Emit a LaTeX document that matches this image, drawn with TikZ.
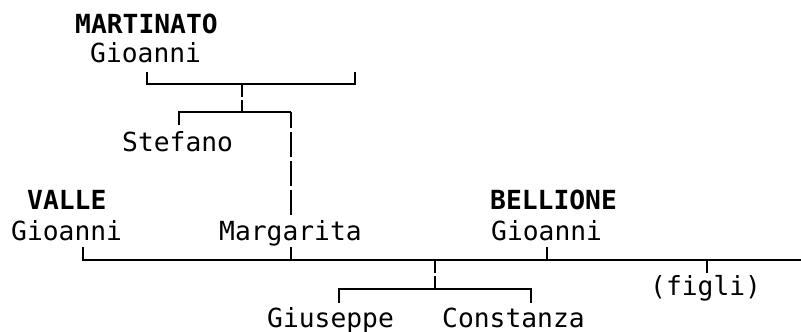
\documentclass[tikz,border=0pt]{standalone}
\usepackage{fontspec}
\setmonofont{DejaVu Sans Mono}
\begin{document}
\begin{tikzpicture}
    [x=1pt, y=-1pt,
     given/.style={inner sep=0pt, anchor=base west, font=\ttfamily\fontsize{26.3}{30}\selectfont},
     family/.style={inner sep=0pt, anchor=base west, font=\ttfamily\bfseries\fontsize{26.3}{30}\selectfont},
     line/.style={line width=1.8pt},
     pipe/.style={line width=1.8pt, dash pattern=on 12.5pt off 3.5pt},
     longpipe/.style={line width=1.8pt, dash pattern=on 25.5pt off 3.5pt}]
    \useasboundingbox (0,0) rectangle (801,332);
    \node[family] (msur) at (75,33) {MARTINATO};
    \node[given] (mname) at (90,62) {Gioanni};
    \node[given] (stefano) at (122,151) {Stefano};
    \node[family] (vsur) at (27,209) {VALLE};
    \node[given] (vname) at (11,240) {Gioanni};
    \node[given] (margarita) at (219,240) {Margarita};
    \node[family] (bsur) at (490,209) {BELLIONE};
    \node[given] (bname) at (491,240) {Gioanni};
    \node[given] (figli) at (650,295) {(figli)};
    \node[given] (giuseppe) at (267,327) {Giuseppe};
    \node[given] (constanza) at (442,327) {Constanza};
    \coordinate (mL) at (147,72);
    \coordinate (mR) at (355,72);
    \coordinate (mJ) at (242,84);
    \coordinate (sJ) at (242,112);
    \coordinate (sL) at (179,125);
    \coordinate (sR) at (291,112);
    \coordinate (mgTop) at (291,215);
    \coordinate (mgBot) at (291,247);
    \coordinate (vL) at (83,247);
    \coordinate (bBot) at (547,247);
    \coordinate (mainR) at (801,260);
    \coordinate (fTop) at (707,273);
    \coordinate (cJ) at (435,260);
    \coordinate (cM) at (435,289);
    \coordinate (cL) at (339,303);
    \coordinate (cR) at (531,303);
    \draw[line] (mL) |- (mR|-mJ) -- (mR);
    \draw[pipe] (mJ) -- (sJ);
    \draw[line] (sL) |- (sR);
    \draw[longpipe] (mgTop) -- (sR);
    \draw[line] (vL) |- (mainR);
    \draw[line] (mgBot) -- (mgBot|-mainR);
    \draw[line] (bBot) -- (bBot|-mainR);
    \draw[line] (fTop|-mainR) -- (fTop);
    \draw[pipe] (cJ) -- (cM);
    \draw[line] (cL) |- (cM) -| (cR);
\end{tikzpicture}
\end{document}
